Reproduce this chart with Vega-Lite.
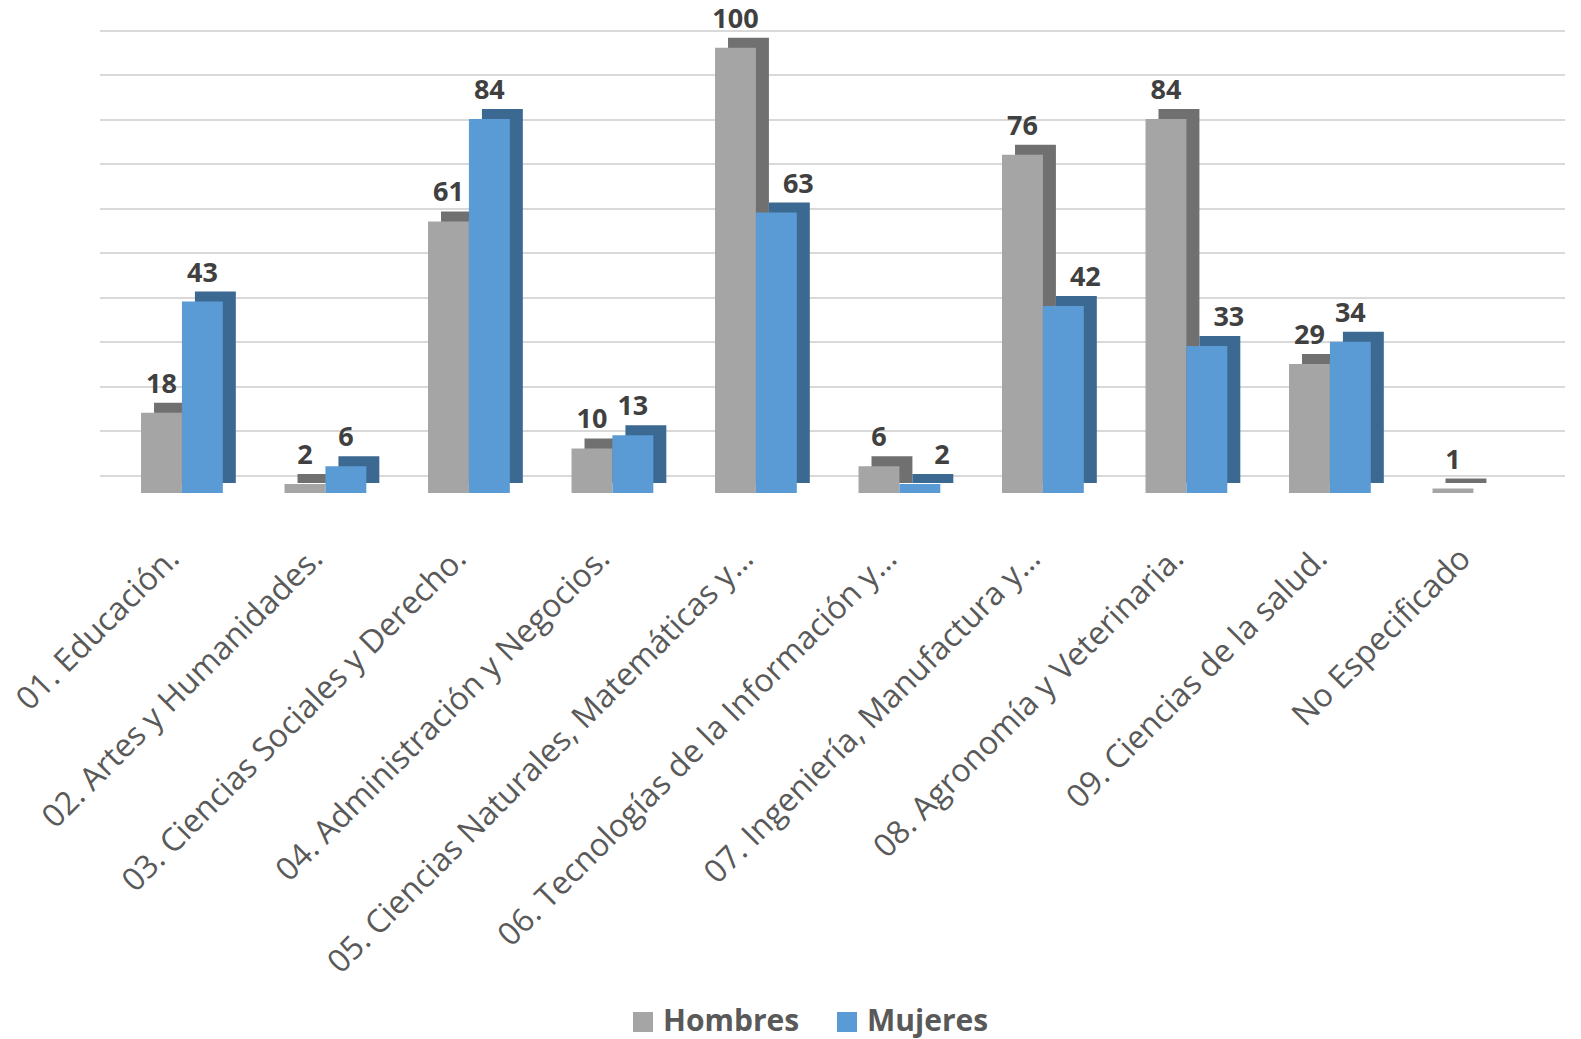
{
  "$schema": "https://vega.github.io/schema/vega-lite/v6.json",
  "autosize": {"type": "none"},
  "padding": {"left": 110, "top": 30, "right": 0, "bottom": 546},
  "width": 1471,
  "height": 463,
  "background": "white",
  "config": {"view": {"stroke": null}, "font": "Open Sans"},
  "data": {
    "values": [
      {"area": "01. Educación.", "sexo": "Hombres", "valor": 18},
      {"area": "01. Educación.", "sexo": "Mujeres", "valor": 43},
      {"area": "02. Artes y Humanidades.", "sexo": "Hombres", "valor": 2},
      {"area": "02. Artes y Humanidades.", "sexo": "Mujeres", "valor": 6},
      {"area": "03. Ciencias Sociales y Derecho.", "sexo": "Hombres", "valor": 61},
      {"area": "03. Ciencias Sociales y Derecho.", "sexo": "Mujeres", "valor": 84},
      {"area": "04. Administración y Negocios.", "sexo": "Hombres", "valor": 10},
      {"area": "04. Administración y Negocios.", "sexo": "Mujeres", "valor": 13},
      {"area": "05. Ciencias Naturales, Matemáticas y…", "sexo": "Hombres", "valor": 100},
      {"area": "05. Ciencias Naturales, Matemáticas y…", "sexo": "Mujeres", "valor": 63},
      {"area": "06. Tecnologías de la Información y…", "sexo": "Hombres", "valor": 6},
      {"area": "06. Tecnologías de la Información y…", "sexo": "Mujeres", "valor": 2},
      {"area": "07. Ingeniería, Manufactura y…", "sexo": "Hombres", "valor": 76},
      {"area": "07. Ingeniería, Manufactura y…", "sexo": "Mujeres", "valor": 42},
      {"area": "08. Agronomía y Veterinaria.", "sexo": "Hombres", "valor": 84},
      {"area": "08. Agronomía y Veterinaria.", "sexo": "Mujeres", "valor": 33},
      {"area": "09. Ciencias de la salud.", "sexo": "Hombres", "valor": 29},
      {"area": "09. Ciencias de la salud.", "sexo": "Mujeres", "valor": 34},
      {"area": "No Especificado", "sexo": "Hombres", "valor": 1}
    ]
  },
  "transform": [
    {"joinaggregate": [{"op": "max", "field": "valor", "as": "maxv"}], "groupby": ["area"]}
  ],
  "encoding": {
    "x": {
      "field": "area", "type": "nominal", "sort": null, "title": null,
      "scale": {"paddingInner": 0.43, "paddingOuter": 0.3196, "align": 0.262, "range": [7, 1472]},
      "axis": {
        "labelAngle": -45, "labelAlign": "right", "labelBaseline": "middle",
        "labelPadding": 60, "labelOffset": -8, "labelFontSize": 32, "labelColor": "#595959",
        "labelFont": "Open Sans", "ticks": false, "domain": false,
        "labelLimit": 0, "labelOverlap": false
      }
    },
    "y": {
      "field": "valor", "type": "quantitative", "title": null,
      "scale": {"domain": [0, 104], "nice": false},
      "axis": {
        "values": [0, 10, 20, 30, 40, 50, 60, 70, 80, 90, 100],
        "labels": false, "ticks": false, "domain": false, "translate": -17,
        "grid": true, "gridColor": "#d9d9d9", "gridWidth": 2
      }
    }
  },
  "layer": [
    {
      "mark": {"type": "bar", "yOffset": -10},
      "encoding": {
        "xOffset": {"field": "sexo", "type": "nominal", "scale": {"domain": ["Hombres", "Mujeres"], "range": [13, 94.8], "paddingInner": 0, "paddingOuter": 0}},
        "color": {
          "field": "sexo", "type": "nominal", "legend": null,
          "scale": {"domain": ["Hombres", "Mujeres"], "range": ["#707070", "#3b6991"]}
        }
      }
    },
    {
      "mark": {"type": "bar"},
      "encoding": {
        "xOffset": {"field": "sexo", "type": "nominal", "scale": {"domain": ["Hombres", "Mujeres"], "paddingInner": 0, "paddingOuter": 0}},
        "color": {
          "field": "sexo", "type": "nominal",
          "scale": {"domain": ["Hombres", "Mujeres"], "range": ["#a5a5a5", "#5b9bd5"]},
          "legend": {
            "title": null, "orient": "none", "direction": "horizontal",
            "legendX": 518, "legendY": 977,
            "symbolType": "square", "symbolSize": 400, "symbolStrokeWidth": 0,
            "labelFontSize": 30, "labelFontWeight": "bold", "labelColor": "#595959",
            "labelFont": "Open Sans", "labelOffset": 5, "columnPadding": 32
          }
        }
      }
    },
    {
      "transform": [{"filter": "!(datum.sexo === 'Mujeres' && datum.valor < datum.maxv)"}],
      "mark": {"type": "text", "dx": 0, "dy": -28, "fontSize": 27, "fontWeight": "bold", "color": "#404040", "font": "Open Sans"},
      "encoding": {
        "xOffset": {"field": "sexo", "type": "nominal", "scale": {"type": "band", "domain": ["Hombres", "Mujeres"], "paddingInner": 0, "paddingOuter": 0}},
        "text": {"field": "valor", "type": "quantitative"}
      }
    },
    {
      "transform": [{"filter": "datum.sexo === 'Mujeres' && datum.valor < datum.maxv"}],
      "mark": {"type": "text", "dx": 22, "dy": -28, "fontSize": 27, "fontWeight": "bold", "color": "#404040", "font": "Open Sans"},
      "encoding": {
        "xOffset": {"field": "sexo", "type": "nominal", "scale": {"type": "band", "domain": ["Hombres", "Mujeres"], "paddingInner": 0, "paddingOuter": 0}},
        "text": {"field": "valor", "type": "quantitative"}
      }
    }
  ],
  "resolve": {"scale": {"color": "independent", "xOffset": "independent"}}
}
